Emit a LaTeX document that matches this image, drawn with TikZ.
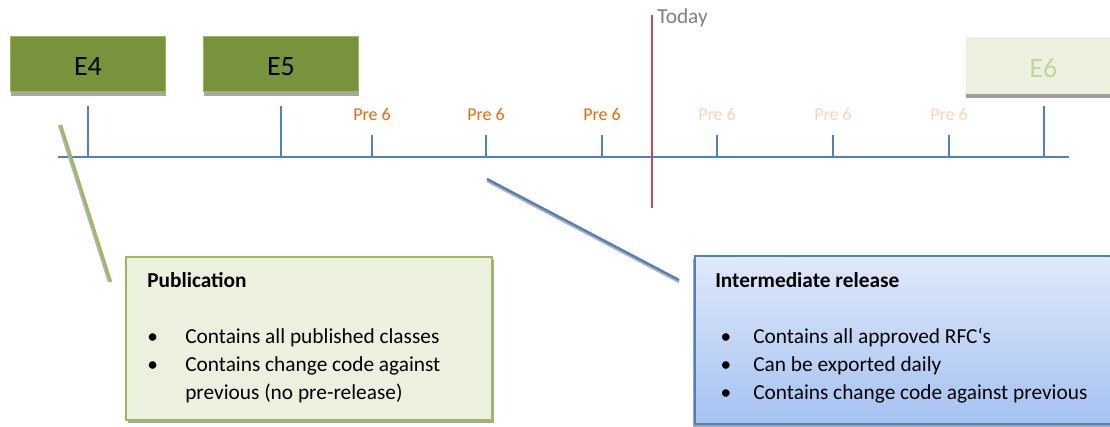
\documentclass[tikz,border=0pt]{standalone}
\usepackage{fontspec}
\setmainfont{Carlito}
\usepackage{tikz}
\usetikzlibrary{calc,positioning,shadows,shapes}
\newcommand{\px}{0.75pt}
\definecolor{olivefill}{HTML}{77933C}
\definecolor{olivedge}{HTML}{9BBB59}
\definecolor{palegreen}{HTML}{EBF1DE}
\definecolor{futuretext}{HTML}{C3D69B}
\definecolor{axisblue}{HTML}{4F81BD}
\definecolor{preorange}{HTML}{E46C0A}
\definecolor{prefaint}{HTML}{FBD4B4}
\definecolor{todayred}{HTML}{C0504D}
\definecolor{todaygrey}{HTML}{7F7F7F}
\definecolor{notetop}{HTML}{DFE9F9}
\definecolor{notebottom}{HTML}{A5C2F1}
\tikzset{%
	edition/.style  = {draw=olivedge, fill=olivefill, rectangle, minimum width=155*\px, minimum height=55*\px, font=\fontsize{21}{25}\selectfont, text height=18.75pt, text depth=0pt, drop shadow={shadow xshift=0pt, shadow yshift=-4pt, fill=black!35, opacity=1}},
	future/.style   = {fill=palegreen, rectangle, minimum width=155*\px, minimum height=57*\px, font=\fontsize{21}{25}\selectfont, text=futuretext, text height=18.75pt, text depth=0pt, drop shadow={shadow xshift=0pt, shadow yshift=-3pt, fill=black!38, opacity=1}},
	timeline/.style = {axisblue, line width=1.5pt},
	tick/.style     = {axisblue, line width=1.5pt},
	prelabel/.style = {anchor=base, inner sep=0pt, font=\fontsize{13.5}{16}\selectfont},
	today/.style    = {todayred, line width=1.5pt},
	pubnote/.style  = {draw=olivedge, line width=1.9pt, fill=palegreen, rectangle, minimum width=366*\px, minimum height=163*\px, drop shadow={shadow xshift=1.5pt, shadow yshift=-2pt, fill=black!35, opacity=1}},
	relnote/.style  = {draw=axisblue, line width=1.5pt, rectangle, top color=notetop, bottom color=notebottom, minimum width=420*\px, minimum height=168*\px, drop shadow={shadow xshift=-1.5pt, shadow yshift=-2pt, fill=black!35, opacity=1}},
	notetext/.style = {anchor=north west, inner sep=0pt, align=left, font=\fontsize{16}{21}\selectfont},
	publine/.style  = {olivedge, line width=1.8pt},
	relline/.style  = {axisblue, line width=1.8pt},
	lineshadow/.style = {black!30, line width=1.8pt},
}

\begin{document}
\begin{tikzpicture}[x=0.75pt, y=-0.75pt]
	\useasboundingbox (0,0) rectangle (1110,427);
	% editions
	\node[edition] (e4) at (88,63.5) {E4};
	\node[edition] (e5) at (281,63.5) {E5};
	\node[future]  (e6) at (1043.5,65.5) {E6};
	% time axis
	\draw[timeline] (58,157) -- (1069,157);
	\foreach \x in {88,281,1044}
		\draw[tick] (\x,106) -- (\x,157);
	\foreach \x/\c in {372/preorange,486/preorange,602/preorange,717/prefaint,833/prefaint,949/prefaint} {
		\draw[tick] (\x,135) -- (\x,157);
		\node[prelabel, text=\c] (pre\x) at (\x,120.5) {Pre 6};
	}
	% today
	\draw[today] (652,15) -- (652,208);
	\node[anchor=base west, inner sep=0pt, text=todaygrey, font=\fontsize{16}{19}\selectfont] (todaylbl) at (657,24) {Today};
	% callout lines
	\coordinate (pubA) at (61,125);
	\coordinate (pubB) at (111,282);
	\coordinate (relA) at (487,179);
	\coordinate (relB) at (679,280);
	\draw[lineshadow, transform canvas={xshift=-1.5pt}] (pubA) -- (pubB);
	\draw[publine] (pubA) -- (pubB);
	\draw[lineshadow, transform canvas={yshift=-1.5pt}] (relA) -- (relB);
	\draw[relline] (relA) -- (relB);
	% notes
	\node[pubnote] (pub) at (309,338.5) {};
	\node[notetext] (pubtext) at (147,267.5) {%
		\begin{tabular}{@{}p{28.5pt}@{}l@{}}
			\multicolumn{2}{@{}l@{}}{\textbf{Publication}}\\
			& \\
			\textbullet & Contains all published classes\\
			\textbullet & Contains change code against\\
			& previous (no pre-release)
		\end{tabular}};
	\node[relnote] (rel) at (905,340) {};
	\node[notetext] (reltext) at (715,268) {%
		\begin{tabular}{@{}p{28.5pt}@{}l@{}}
			\multicolumn{2}{@{}l@{}}{\textbf{Intermediate release}}\\
			& \\
			\hspace{4pt}\textbullet & Contains all approved RFC‘s\\
			\hspace{4pt}\textbullet & Can be exported daily\\
			\hspace{4pt}\textbullet & Contains change code against previous
		\end{tabular}};
\end{tikzpicture}
\end{document}
